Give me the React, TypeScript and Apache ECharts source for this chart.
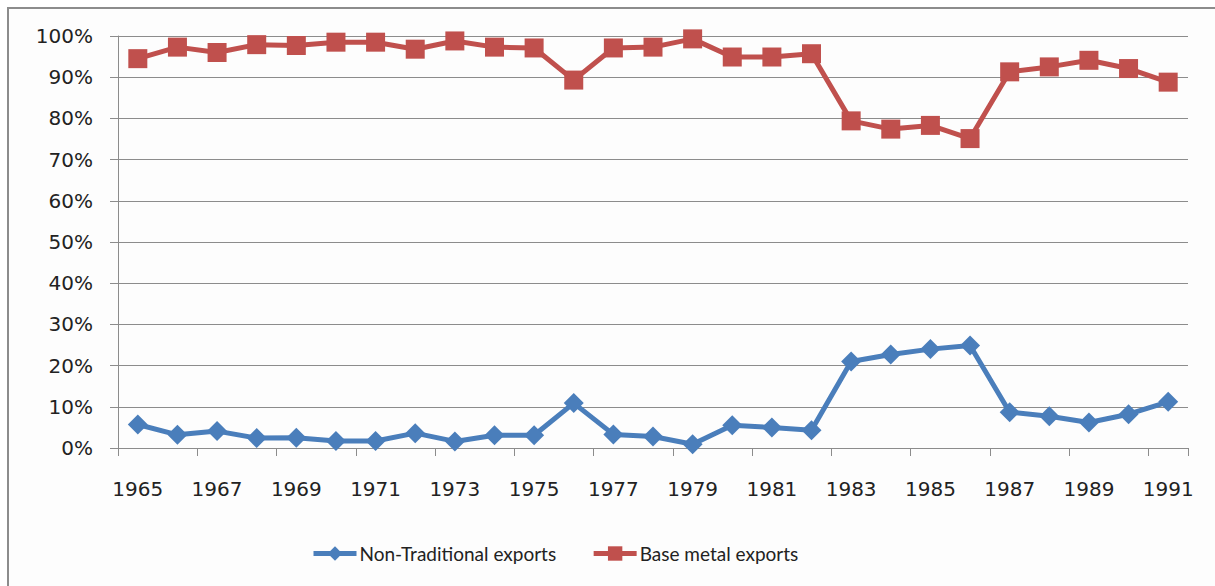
import React, { useEffect, useRef } from "react";
import * as echarts from "echarts";

const years = [
  "1965", "1966", "1967", "1968", "1969", "1970", "1971", "1972", "1973",
  "1974", "1975", "1976", "1977", "1978", "1979", "1980", "1981", "1982",
  "1983", "1984", "1985", "1986", "1987", "1988", "1989", "1990", "1991",
];

const nonTraditional = [
  5.7, 3.2, 4.1, 2.4, 2.5, 1.7, 1.7, 3.6, 1.6, 3.1, 3.1, 10.9, 3.3, 2.8, 0.9,
  5.5, 5.0, 4.3, 21.0, 22.7, 24.0, 24.9, 8.7, 7.7, 6.2, 8.2, 11.2,
];

const baseMetal = [
  94.5, 97.3, 96.0, 97.9, 97.7, 98.5, 98.5, 96.8, 98.8, 97.3, 97.1, 89.3, 97.1,
  97.3, 99.3, 94.9, 94.9, 95.7, 79.4, 77.4, 78.3, 75.1, 91.3, 92.5, 94.1, 92.1,
  88.8,
];

const seriesNames = ["Non-Traditional exports", "Base metal exports"];

export default function App() {
  const ref = useRef<HTMLDivElement>(null);

  useEffect(() => {
    if (!ref.current) return;
    const chart = echarts.init(ref.current, null, { renderer: "svg" });
    const axisFont = "DejaVu Sans";
    chart.setOption({
      animation: false,
      backgroundColor: "#ffffff",
      graphic: [
        {
          type: "rect",
          shape: { x: 8, y: 8, width: 1300, height: 700 },
          style: { fill: "#fdfdfd", stroke: "#8c8c8c", lineWidth: 2 },
          z: -10,
          silent: true,
        },
      ],
      grid: { left: 118, right: 27, top: 36, bottom: 138 },
      legend: {
        left: 306,
        top: 539,
        itemWidth: 43,
        itemHeight: 18,
        itemGap: 35,
        lineStyle: { width: 5 },
        textStyle: {
          fontFamily: "Lato",
          fontSize: 19,
          color: "#222",
          padding: [0, 0, 0, -2],
        },
        data: seriesNames,
      },
      xAxis: {
        type: "category",
        data: years,
        boundaryGap: true,
        axisLine: { lineStyle: { color: "#8c8c8c", width: 1 } },
        axisTick: { show: true, interval: 1, length: 8, lineStyle: { color: "#8c8c8c" } },
        axisLabel: {
          interval: 1,
          margin: 31,
          fontFamily: axisFont,
          fontSize: 20,
          color: "#222",
        },
        splitLine: { show: false },
      },
      yAxis: {
        type: "value",
        min: 0,
        max: 100,
        interval: 10,
        axisLine: { show: true, lineStyle: { color: "#8c8c8c", width: 1 } },
        axisTick: { show: true, length: 8, lineStyle: { color: "#8c8c8c" } },
        axisLabel: {
          margin: 25,
          formatter: "{value}%",
          fontFamily: axisFont,
          fontSize: 20,
          color: "#222",
        },
        splitLine: { show: true, lineStyle: { color: "#8c8c8c", width: 1 } },
      },
      series: [
        {
          name: seriesNames[0],
          type: "line",
          data: nonTraditional,
          symbol: "diamond",
          symbolSize: 20,
          lineStyle: { color: "#4a7ebb", width: 5 },
          itemStyle: { color: "#4a7ebb" },
          z: 3,
        },
        {
          name: seriesNames[1],
          type: "line",
          data: baseMetal,
          symbol: "rect",
          symbolSize: 19,
          lineStyle: { color: "#c0504d", width: 5 },
          itemStyle: { color: "#c0504d" },
          z: 3,
        },
      ],
    });
    return () => chart.dispose();
  }, []);

  return (
    <div
      ref={ref}
      style={{ position: "absolute", left: 0, top: 0, width: 1215, height: 586 }}
    />
  );
}
